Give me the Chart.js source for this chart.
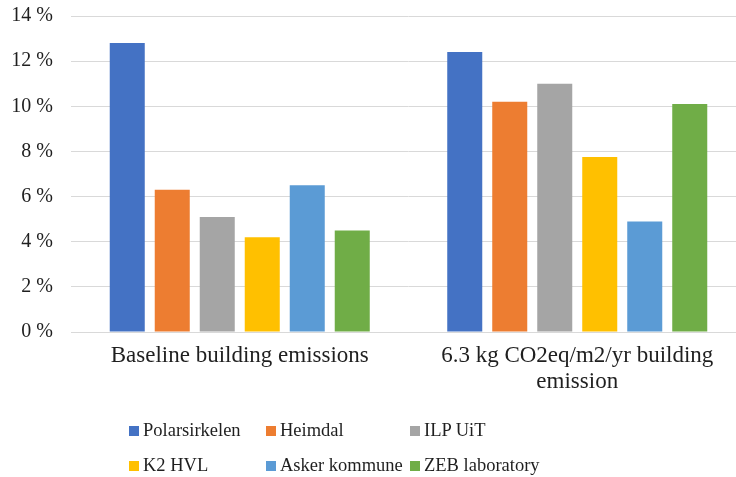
<!DOCTYPE html>
<html>
<head>
<meta charset="utf-8">
<script src="https://cdn.jsdelivr.net/npm/chart.js@4/dist/chart.umd.min.js"></script>
<style>
  html, body { margin: 0; padding: 0; background: #fff; }
  #wrap { position: relative; width: 736px; height: 477px; overflow: hidden; }
  #myChart { position: absolute; left: 0; top: 0; }
  #legend {
    position: absolute; left: 129px; top: 413px;
    display: grid; grid-template-columns: 137px 144px 150px;
    grid-auto-rows: 35px;
    font-family: "Liberation Serif", "Times New Roman", serif;
    font-size: 18.5px; color: #1f1f1f;
  }
  .item { display: flex; align-items: center; white-space: nowrap; }
  .box { width: 10px; height: 10px; margin-right: 4px; }
</style>
</head>
<body>
<div id="wrap">
  <canvas id="myChart" width="760" height="477"></canvas>
  <div id="legend"></div>
</div>
<script>
const categorias = [
    ["Baseline building emissions"],
    ["6.3 kg CO2eq/m2/yr building", "emission"]
]
const edificios = ["Polarsirkelen", "Heimdal", "ILP UiT", "K2 HVL", "Asker kommune", "ZEB laboratory"]
const colores = ["#4472C4", "#ED7D31", "#A5A5A5", "#FFC000", "#5B9BD5", "#70AD47"]

// valores en %, [baseline, 6.3 kg]
const polarsirkelen = [12.8, 12.4]
const heimdal = [6.3, 10.2]
const ilpUit = [5.1, 11.0]
const k2Hvl = [4.2, 7.75]
const askerKommune = [6.5, 4.9]
const zebLaboratory = [4.5, 10.1]

const series = [polarsirkelen, heimdal, ilpUit, k2Hvl, askerKommune, zebLaboratory]
const ticksY = [0, 2, 4, 6, 8, 10, 12, 14]

const fuente = "'Liberation Serif', 'Times New Roman', serif"
const colorTexto = "#1f1f1f"

const datasets = edificios.map((nombre, i) => {
    return {
        label: nombre,
        data: series[i],
        backgroundColor: colores[i],
        borderWidth: 0
    }
})

const config = {
    type: "bar",
    data: {
        labels: categorias,
        datasets: datasets
    },
    options: {
        responsive: false,
        animation: false,
        layout: {
            padding: { top: 16, right: 14, bottom: 0, left: 0 }
        },
        datasets: {
            bar: {
                categoryPercentage: 0.8,
                barPercentage: 0.778
            }
        },
        plugins: {
            legend: { display: false },
            tooltip: { enabled: false }
        },
        scales: {
            x: {
                grid: { display: false, drawTicks: false },
                border: { display: true, color: "#d9d9d9", width: 1 },
                ticks: {
                    padding: 11,
                    color: colorTexto,
                    maxRotation: 0,
                    autoSkip: false,
                    font: { family: fuente, size: 23, lineHeight: 1.12 }
                },
                afterFit: (scale) => { scale.height = 145 }
            },
            y: {
                min: ticksY[0],
                max: ticksY[ticksY.length - 1],
                grid: { color: "#d9d9d9", lineWidth: 1, drawTicks: false },
                border: { display: false },
                afterBuildTicks: (scale) => {
                    scale.ticks = ticksY.map((v) => ({ value: v }))
                },
                ticks: {
                    padding: 18,
                    color: colorTexto,
                    font: { family: fuente, size: 20 },
                    callback: (v) => v + " %"
                },
                afterFit: (scale) => {
                    scale.width = 71
                    // el padding de ticks se suma arriba/abajo, lo quito
                    scale.paddingTop = 0
                    scale.paddingBottom = 0
                }
            }
        }
    }
}

const chart = new Chart(document.getElementById("myChart"), config)

// leyenda en 3 columnas como en el original
const leyenda = document.getElementById("legend")
chart.data.datasets.forEach((ds) => {
    const item = document.createElement("div")
    item.className = "item"
    const caja = document.createElement("span")
    caja.className = "box"
    caja.style.background = ds.backgroundColor
    const texto = document.createElement("span")
    texto.textContent = ds.label
    item.appendChild(caja)
    item.appendChild(texto)
    leyenda.appendChild(item)
})
</script>
</body>
</html>
